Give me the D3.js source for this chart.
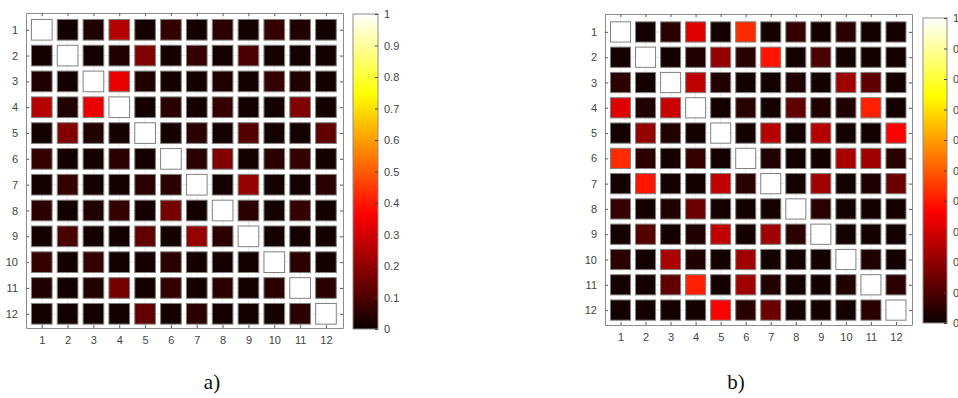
<html>
<head>
<meta charset="utf-8">
<script src="https://d3js.org/d3.v7.min.js"></script>
<style>
body { margin: 0; background: #fff; }
svg text { font-family: "Liberation Sans", Arial, sans-serif; }
.tick text { fill: #444; font-size: 11px; }
.caption { font-family: "Liberation Serif", "Times New Roman", serif; font-size: 21px; fill: #111; }
</style>
</head>
<body>
<script>
// tick labels shared by both matrices
var labels = [1,2,3,4,5,6,7,8,9,10,11,12];
var cbTicks = [0,0.1,0.2,0.3,0.4,0.5,0.6,0.7,0.8,0.9,1];

// a) correlation matrix, row by row
var valuesA = [
  [1,0.01,0.03,0.26,0.01,0.07,0.01,0.04,0.01,0.06,0.03,0.01],
  [0.01,1,0.01,0.03,0.17,0.01,0.06,0.01,0.09,0.01,0.01,0.01],
  [0.03,0.01,1,0.33,0.03,0.01,0.01,0.03,0.01,0.07,0.03,0.01],
  [0.26,0.03,0.33,1,0.01,0.04,0.01,0.06,0.01,0.01,0.17,0.01],
  [0.01,0.17,0.03,0.01,1,0.01,0.04,0.01,0.11,0.01,0.01,0.12],
  [0.07,0.01,0.01,0.04,0.01,1,0.05,0.18,0.01,0.05,0.06,0.01],
  [0.01,0.06,0.01,0.01,0.04,0.05,1,0.01,0.2,0.01,0.01,0.05],
  [0.04,0.01,0.03,0.06,0.01,0.16,0.01,1,0.05,0.01,0.06,0.01],
  [0.01,0.09,0.01,0.01,0.12,0.01,0.21,0.05,1,0.01,0.01,0.01],
  [0.06,0.01,0.07,0.01,0.01,0.05,0.01,0.01,0.01,1,0.04,0.01],
  [0.03,0.01,0.03,0.16,0.01,0.06,0.01,0.05,0.01,0.04,1,0.04],
  [0.01,0.01,0.01,0.01,0.13,0.01,0.05,0.01,0.01,0.01,0.04,1]
];

// b) correlation matrix
var valuesB = [
  [1,0.01,0.05,0.31,0.01,0.43,0.01,0.06,0.01,0.05,0.01,0.01],
  [0.01,1,0.01,0.03,0.2,0.04,0.4,0.01,0.1,0.01,0.01,0.01],
  [0.05,0.01,1,0.27,0.03,0.01,0.01,0.03,0.01,0.23,0.13,0.01],
  [0.31,0.03,0.28,1,0.01,0.05,0.01,0.13,0.03,0.03,0.41,0.01],
  [0.01,0.2,0.03,0.01,1,0.01,0.26,0.01,0.26,0.01,0.01,0.37],
  [0.43,0.05,0.01,0.06,0.01,1,0.03,0.01,0.01,0.24,0.23,0.05],
  [0.01,0.4,0.01,0.01,0.27,0.04,1,0.01,0.22,0.01,0.03,0.14],
  [0.06,0.01,0.03,0.14,0.01,0.01,0.01,1,0.05,0.01,0.01,0.01],
  [0.01,0.11,0.01,0.03,0.27,0.01,0.22,0.05,1,0.01,0.01,0.01],
  [0.04,0.01,0.24,0.03,0.01,0.23,0.01,0.01,0.01,1,0.03,0.01],
  [0.01,0.01,0.13,0.41,0.01,0.22,0.03,0.01,0.01,0.03,1,0.05],
  [0.01,0.01,0.01,0.01,0.36,0.05,0.15,0.01,0.01,0.01,0.05,1]
];

// matlab "hot" colormap, 64 entries
var M = 64, N = Math.floor(3 / 8 * M);
function hot(t) {
  var i = Math.round(Math.max(0, Math.min(1, t)) * (M - 1));
  var r = i < N ? (i + 1) / N : 1;
  var g = i < N ? 0 : (i < 2 * N ? (i - N + 1) / N : 1);
  var b = i < 2 * N ? 0 : (i - 2 * N + 1) / (M - 2 * N);
  return d3.rgb(r * 255, g * 255, b * 255).toString();
}

var svg = d3.select("body").append("svg")
  .attr("width", 958).attr("height", 398);

var grad = svg.append("defs").append("linearGradient")
  .attr("id", "hotgrad").attr("x1", 0).attr("y1", 1).attr("x2", 0).attr("y2", 0);
d3.range(M).forEach(function(i) {
  grad.append("stop").attr("offset", i / (M - 1)).attr("stop-color", hot(i / (M - 1)));
});

function matrix(values, box, cb, caption) {
  var x = d3.scaleLinear().domain(box.xd).range([box.x0, box.x1]);
  var y = d3.scaleLinear().domain(box.yd).range([box.y0, box.y1]);
  var g = svg.append("g");

  // faint grid
  g.selectAll(".gx").data(labels).enter().append("line")
    .attr("x1", function(d) { return x(d); }).attr("x2", function(d) { return x(d); })
    .attr("y1", box.y0).attr("y2", box.y1).attr("stroke", "#ebebeb");
  g.selectAll(".gy").data(labels).enter().append("line")
    .attr("y1", function(d) { return y(d); }).attr("y2", function(d) { return y(d); })
    .attr("x1", box.x0).attr("x2", box.x1).attr("stroke", "#ebebeb");

  var s = 0.8;
  var cells = [];
  values.forEach(function(row, i) {
    row.forEach(function(v, j) { cells.push({r: i + 1, c: j + 1, v: v}); });
  });
  g.selectAll("rect.cell").data(cells).enter().append("rect")
    .attr("class", "cell")
    .attr("x", function(d) { return x(d.c - s / 2); })
    .attr("y", function(d) { return y(d.r - s / 2); })
    .attr("width", x(s) - x(0))
    .attr("height", y(s) - y(0))
    .attr("fill", function(d) { return hot(d.v); })
    .attr("stroke", "#808080").attr("stroke-width", 1);

  // axes, ticks inside like matlab
  var ax = [
    [d3.axisBottom(x).tickSizeInner(-3), "translate(0," + box.y1 + ")", true],
    [d3.axisTop(x).tickSizeInner(-3).tickFormat(""), "translate(0," + box.y0 + ")", false],
    [d3.axisLeft(y).tickSizeInner(-3), "translate(" + box.x0 + ",0)", true],
    [d3.axisRight(y).tickSizeInner(-3).tickFormat(""), "translate(" + box.x1 + ",0)", false]
  ];
  ax.forEach(function(a) {
    var ag = g.append("g").attr("transform", a[1])
      .call(a[0].tickValues(labels).tickSizeOuter(0).tickPadding(8));
    ag.select(".domain").attr("stroke", "#8c8c8c");
    ag.selectAll(".tick line").attr("stroke", "#666");
  });

  // colorbar
  var cs = d3.scaleLinear().domain([0, 1]).range([cb.y1, cb.y0]);
  g.append("rect").attr("x", cb.x0).attr("y", cb.y0)
    .attr("width", cb.x1 - cb.x0).attr("height", cb.y1 - cb.y0)
    .attr("fill", "url(#hotgrad)").attr("stroke", "#8c8c8c");
  var cg = g.append("g").attr("transform", "translate(" + cb.x1 + ",0)")
    .call(d3.axisRight(cs).tickValues(cbTicks).tickSizeInner(-3).tickSizeOuter(0)
      .tickPadding(6).tickFormat(d3.format("")));
  cg.select(".domain").remove();
  cg.selectAll(".tick line").attr("stroke", "#444");
  cg.selectAll(".tick text").attr("text-anchor", "start");

  svg.append("text").attr("class", "caption")
    .attr("x", caption.x).attr("y", caption.y).attr("text-anchor", "middle")
    .text(caption.t);
}

matrix(valuesA,
  {x0: 26, x1: 343, y0: 13, y1: 328, xd: [0.39, 12.66], yd: [0.35, 12.55]},
  {x0: 353, x1: 378, y0: 14, y1: 329},
  {x: 212, y: 389, t: "a)"});

matrix(valuesB,
  {x0: 605, x1: 912, y0: 14, y1: 325, xd: [0.38, 12.64], yd: [0.29, 12.59]},
  {x0: 923, x1: 947, y0: 18, y1: 323},
  {x: 736, y: 389, t: "b)"});
</script>
</body>
</html>
